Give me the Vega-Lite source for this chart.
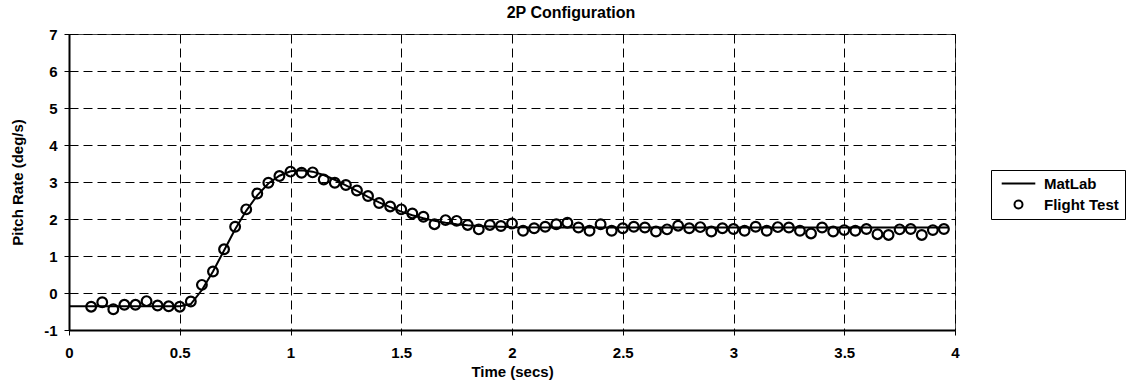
{
  "$schema": "https://vega.github.io/schema/vega-lite/v6.json",
  "width": 886,
  "height": 296,
  "autosize": "none",
  "padding": {"left": 69, "top": 34, "right": 176, "bottom": 55},
  "background": "white",
  "title": {
    "text": "2P Configuration",
    "font": "Liberation Sans",
    "fontSize": 16,
    "fontWeight": "bold",
    "color": "black",
    "anchor": "middle",
    "dx": 59,
    "offset": 6
  },
  "datasets": {
    "matlab": [
      {"t": 0, "v": -0.36}, {"t": 0.5, "v": -0.36}, {"t": 0.55, "v": -0.3},
      {"t": 0.6, "v": 0.08}, {"t": 0.65, "v": 0.58}, {"t": 0.7, "v": 1.15},
      {"t": 0.75, "v": 1.72}, {"t": 0.8, "v": 2.22}, {"t": 0.85, "v": 2.64},
      {"t": 0.9, "v": 2.96}, {"t": 0.95, "v": 3.17}, {"t": 1.0, "v": 3.29},
      {"t": 1.05, "v": 3.32}, {"t": 1.1, "v": 3.28}, {"t": 1.15, "v": 3.19},
      {"t": 1.2, "v": 3.06}, {"t": 1.25, "v": 2.91}, {"t": 1.3, "v": 2.76},
      {"t": 1.35, "v": 2.6}, {"t": 1.4, "v": 2.45}, {"t": 1.45, "v": 2.32},
      {"t": 1.5, "v": 2.2}, {"t": 1.55, "v": 2.1}, {"t": 1.6, "v": 2.02},
      {"t": 1.65, "v": 1.95}, {"t": 1.7, "v": 1.9}, {"t": 1.75, "v": 1.86},
      {"t": 1.8, "v": 1.83}, {"t": 1.85, "v": 1.81}, {"t": 1.9, "v": 1.8},
      {"t": 2.0, "v": 1.78}, {"t": 2.2, "v": 1.77}, {"t": 2.5, "v": 1.77},
      {"t": 3.0, "v": 1.77}, {"t": 3.5, "v": 1.77}, {"t": 3.97, "v": 1.77}
    ],
    "flight": [
      {"t": 0.1, "v": -0.37, "series": "Flight Test"}, {"t": 0.15, "v": -0.25, "series": "Flight Test"},
      {"t": 0.2, "v": -0.44, "series": "Flight Test"}, {"t": 0.25, "v": -0.32, "series": "Flight Test"},
      {"t": 0.3, "v": -0.32, "series": "Flight Test"}, {"t": 0.35, "v": -0.22, "series": "Flight Test"},
      {"t": 0.4, "v": -0.34, "series": "Flight Test"}, {"t": 0.45, "v": -0.36, "series": "Flight Test"},
      {"t": 0.5, "v": -0.37, "series": "Flight Test"}, {"t": 0.55, "v": -0.23, "series": "Flight Test"},
      {"t": 0.6, "v": 0.22, "series": "Flight Test"}, {"t": 0.65, "v": 0.58, "series": "Flight Test"},
      {"t": 0.7, "v": 1.18, "series": "Flight Test"}, {"t": 0.75, "v": 1.79, "series": "Flight Test"},
      {"t": 0.8, "v": 2.26, "series": "Flight Test"}, {"t": 0.85, "v": 2.69, "series": "Flight Test"},
      {"t": 0.9, "v": 2.98, "series": "Flight Test"}, {"t": 0.95, "v": 3.16, "series": "Flight Test"},
      {"t": 1.0, "v": 3.28, "series": "Flight Test"}, {"t": 1.05, "v": 3.25, "series": "Flight Test"},
      {"t": 1.1, "v": 3.26, "series": "Flight Test"}, {"t": 1.15, "v": 3.07, "series": "Flight Test"},
      {"t": 1.2, "v": 2.98, "series": "Flight Test"}, {"t": 1.25, "v": 2.92, "series": "Flight Test"},
      {"t": 1.3, "v": 2.77, "series": "Flight Test"}, {"t": 1.35, "v": 2.62, "series": "Flight Test"},
      {"t": 1.4, "v": 2.43, "series": "Flight Test"}, {"t": 1.45, "v": 2.34, "series": "Flight Test"},
      {"t": 1.5, "v": 2.26, "series": "Flight Test"}, {"t": 1.55, "v": 2.15, "series": "Flight Test"},
      {"t": 1.6, "v": 2.06, "series": "Flight Test"}, {"t": 1.65, "v": 1.86, "series": "Flight Test"},
      {"t": 1.7, "v": 1.97, "series": "Flight Test"}, {"t": 1.75, "v": 1.95, "series": "Flight Test"},
      {"t": 1.8, "v": 1.84, "series": "Flight Test"}, {"t": 1.85, "v": 1.72, "series": "Flight Test"},
      {"t": 1.9, "v": 1.84, "series": "Flight Test"}, {"t": 1.95, "v": 1.81, "series": "Flight Test"},
      {"t": 2.0, "v": 1.88, "series": "Flight Test"}, {"t": 2.05, "v": 1.68, "series": "Flight Test"},
      {"t": 2.1, "v": 1.75, "series": "Flight Test"}, {"t": 2.15, "v": 1.79, "series": "Flight Test"},
      {"t": 2.2, "v": 1.86, "series": "Flight Test"}, {"t": 2.25, "v": 1.9, "series": "Flight Test"},
      {"t": 2.3, "v": 1.77, "series": "Flight Test"}, {"t": 2.35, "v": 1.68, "series": "Flight Test"},
      {"t": 2.4, "v": 1.86, "series": "Flight Test"}, {"t": 2.45, "v": 1.68, "series": "Flight Test"},
      {"t": 2.5, "v": 1.75, "series": "Flight Test"}, {"t": 2.55, "v": 1.79, "series": "Flight Test"},
      {"t": 2.6, "v": 1.77, "series": "Flight Test"}, {"t": 2.65, "v": 1.66, "series": "Flight Test"},
      {"t": 2.7, "v": 1.72, "series": "Flight Test"}, {"t": 2.75, "v": 1.82, "series": "Flight Test"},
      {"t": 2.8, "v": 1.75, "series": "Flight Test"}, {"t": 2.85, "v": 1.78, "series": "Flight Test"},
      {"t": 2.9, "v": 1.66, "series": "Flight Test"}, {"t": 2.95, "v": 1.75, "series": "Flight Test"},
      {"t": 3.0, "v": 1.73, "series": "Flight Test"}, {"t": 3.05, "v": 1.68, "series": "Flight Test"},
      {"t": 3.1, "v": 1.79, "series": "Flight Test"}, {"t": 3.15, "v": 1.68, "series": "Flight Test"},
      {"t": 3.2, "v": 1.78, "series": "Flight Test"}, {"t": 3.25, "v": 1.77, "series": "Flight Test"},
      {"t": 3.3, "v": 1.68, "series": "Flight Test"}, {"t": 3.35, "v": 1.61, "series": "Flight Test"},
      {"t": 3.4, "v": 1.77, "series": "Flight Test"}, {"t": 3.45, "v": 1.66, "series": "Flight Test"},
      {"t": 3.5, "v": 1.7, "series": "Flight Test"}, {"t": 3.55, "v": 1.68, "series": "Flight Test"},
      {"t": 3.6, "v": 1.73, "series": "Flight Test"}, {"t": 3.65, "v": 1.59, "series": "Flight Test"},
      {"t": 3.7, "v": 1.57, "series": "Flight Test"}, {"t": 3.75, "v": 1.72, "series": "Flight Test"},
      {"t": 3.8, "v": 1.73, "series": "Flight Test"}, {"t": 3.85, "v": 1.57, "series": "Flight Test"},
      {"t": 3.9, "v": 1.7, "series": "Flight Test"}, {"t": 3.95, "v": 1.73, "series": "Flight Test"}
    ]
  },
  "config": {
    "view": {"stroke": "#444", "strokeWidth": 1},
    "axis": {
      "labelFont": "Liberation Sans",
      "labelFontWeight": "bold",
      "labelFontSize": 15,
      "labelColor": "black",
      "titleFont": "Liberation Sans",
      "titleFontWeight": "bold",
      "titleFontSize": 15,
      "titleColor": "black",
      "domainColor": "black",
      "domainWidth": 2,
      "tickColor": "black",
      "tickSize": 5,
      "tickWidth": 1,
      "gridColor": "black",
      "gridDash": [9, 5],
      "gridWidth": 1,
      "gridOpacity": 1
    }
  },
  "encoding": {
    "x": {
      "field": "t",
      "type": "quantitative",
      "scale": {"domain": [0, 4], "nice": false, "zero": false},
      "axis": {
        "title": "Time (secs)",
        "values": [0, 0.5, 1, 1.5, 2, 2.5, 3, 3.5, 4],
        "labelExpr": "datum.value",
        "labelPadding": 10,
        "titlePadding": 4,
        "labelFlush": false
      }
    },
    "y": {
      "field": "v",
      "type": "quantitative",
      "scale": {"domain": [-1, 7], "nice": false, "zero": false},
      "axis": {
        "title": "Pitch Rate (deg/s)",
        "values": [-1, 0, 1, 2, 3, 4, 5, 6, 7],
        "labelExpr": "datum.value",
        "labelPadding": 7,
        "titlePadding": 18
      }
    }
  },
  "layer": [
    {
      "data": {"name": "matlab"},
      "mark": {"type": "line", "color": "black", "strokeWidth": 2}
    },
    {
      "data": {"name": "flight"},
      "mark": {"type": "point", "filled": false, "color": "black", "strokeWidth": 2.2, "size": 95, "opacity": 1},
      "encoding": {
        "shape": {
          "field": "series",
          "type": "nominal",
          "scale": {"domain": ["MatLab", "Flight Test"], "range": ["M-4.2,0H4.2", "circle"]},
          "legend": {
            "orient": "none",
            "legendX": 922,
            "legendY": 136,
            "title": null,
            "strokeColor": "black",
            "fillColor": "white",
            "padding": 6,
            "symbolStrokeWidth": 2,
            "symbolStrokeColor": "black",
            "symbolFillColor": "transparent",
            "symbolSize": 64,
            "symbolOffset": 14,
            "symbolOpacity": 1,
            "labelFont": "Liberation Sans",
            "labelFontSize": 15,
            "labelFontWeight": "bold",
            "labelColor": "black",
            "labelOffset": 18,
            "rowPadding": 4
          }
        }
      }
    }
  ]
}
